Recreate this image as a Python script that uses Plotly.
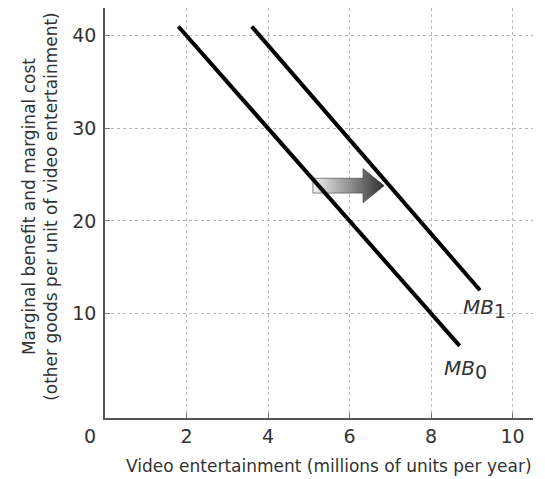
import plotly.graph_objects as go

# Marginal benefit curves
mb0_x = [1.8, 8.7]
mb0_y = [41, 6.5]
mb1_x = [3.6, 9.2]
mb1_y = [41, 12.5]

# Shift arrow: tail x, head x, height (data units)
arrow_x = [5.1, 6.85]
arrow_y = 23.8

x_ticks = [2, 4, 6, 8, 10]
y_ticks = [10, 20, 30, 40]

TEXT = '#333333'
FONT = 'DejaVu Sans'

fig = go.Figure()

# Fat gradient arrow built as a filled polygon
body_h = 0.8     # half-height of the arrow body
head_h = 1.85    # half-height of the arrow head
head_len = 0.52  # length of the arrow head
x0, x1 = arrow_x
xh = x1 - head_len
ax = [x0, xh, xh, x1, xh, xh, x0, x0]
ay = [arrow_y + body_h, arrow_y + body_h, arrow_y + head_h, arrow_y,
      arrow_y - head_h, arrow_y - body_h, arrow_y - body_h, arrow_y + body_h]
fig.add_trace(go.Scatter(
    x=ax, y=ay, mode='lines', fill='toself',
    line=dict(color='#3a3a3a', width=0.6),
    fillgradient=dict(type='horizontal',
                      colorscale=[[0, '#f0f0f0'], [0.55, '#8a8a8a'], [1, '#2e2e2e']]),
    hoverinfo='skip', showlegend=False
))

fig.add_trace(go.Scatter(x=mb0_x, y=mb0_y, mode='lines',
                         line=dict(color='black', width=4), showlegend=False))
fig.add_trace(go.Scatter(x=mb1_x, y=mb1_y, mode='lines',
                         line=dict(color='black', width=4), showlegend=False))

# curve labels
SUB = '<sub><span style="font-size:19px">%s</span></sub>'
fig.add_annotation(x=9.3, y=10.5, text='<i>MB</i>' + SUB % '1', showarrow=False,
                   font=dict(size=20, color=TEXT, family=FONT))
fig.add_annotation(x=8.85, y=3.9, text='<i>MB</i>' + SUB % '0', showarrow=False,
                   font=dict(size=20, color=TEXT, family=FONT))

# shared origin label
fig.add_annotation(x=0, y=0, xref='x', yref='paper', text='0', showarrow=False,
                   xanchor='center', yanchor='middle',
                   xshift=-15, yshift=-18, font=dict(size=19, color=TEXT, family=FONT))

# axis titles
fig.add_annotation(x=0.523, y=0, xref='paper', yref='paper', yanchor='middle',
                   text='Video entertainment (millions of units per year)',
                   showarrow=False, yshift=-48,
                   font=dict(size=17, color=TEXT, family=FONT))
fig.add_annotation(x=0, y=0.515, xref='paper', yref='paper',
                   xanchor='center', yanchor='middle',
                   text='Marginal benefit and marginal cost<br>(other goods per unit of video entertainment)',
                   showarrow=False, textangle=-90, xshift=-65,
                   font=dict(size=17, color=TEXT, family=FONT))

axis_style = dict(showgrid=True, gridcolor='#b8b8b8', griddash='dot', gridwidth=1,
                  showline=True, linecolor='#555555', linewidth=1.5,
                  ticks='inside', ticklen=5, tickcolor='#777777',
                  zeroline=False, automargin=False,
                  tickfont=dict(size=19, color=TEXT, family=FONT))
fig.update_xaxes(range=[0, 10.5], tickvals=x_ticks, **axis_style)
fig.update_yaxes(range=[-1.3, 43], tickvals=y_ticks, ticklabelstandoff=3, **axis_style)

# the page body adds an 8px offset, so the figure is 8px smaller than the window
fig.update_layout(
    width=537, height=471,
    margin=dict(l=97, r=12, t=0, b=61, autoexpand=False),
    plot_bgcolor='white', paper_bgcolor='white',
    showlegend=False
)

fig.write_html("out.html")
